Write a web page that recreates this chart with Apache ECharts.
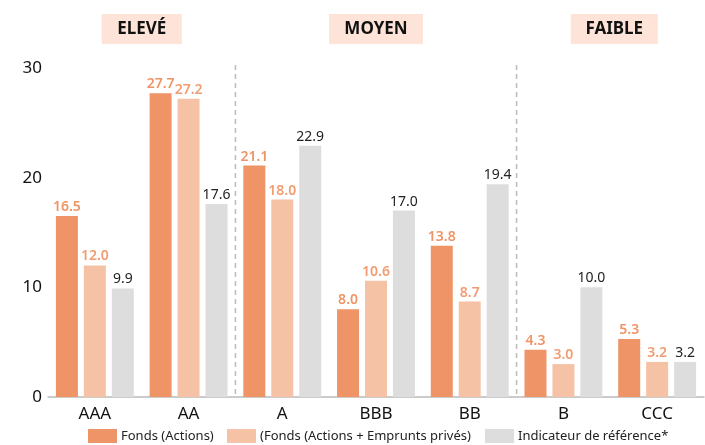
<!DOCTYPE html>
<html><head><meta charset="utf-8">
<script src="https://cdn.jsdelivr.net/npm/echarts@6/dist/echarts.min.js"></script>
<style>html,body{margin:0;padding:0;background:#fff}#c{width:705px;height:445px}</style>
</head><body><div id="c"></div>
<script>
const categories = ['AAA','AA','A','BBB','BB','B','CCC'];
const fondsActions = [16.5, 27.7, 21.1, 8.0, 13.8, 4.3, 5.3];
const fondsMixtes = [12.0, 27.2, 18.0, 10.6, 8.7, 3.0, 3.2];
const indicateur = [9.9, 17.6, 22.9, 17.0, 19.4, 10.0, 3.2];
const seriesNames = ['Fonds (Actions)', '(Fonds (Actions + Emprunts privés)', 'Indicateur de référence*'];
const groups = ['ELEVÉ', 'MOYEN', 'FAIBLE'];
const yTicks = [0, 10, 20, 30];

const FONT = "'Noto Sans',sans-serif";
const chart = echarts.init(document.getElementById('c'), null, {renderer:'canvas'});
const lbl = (color, weight) => ({show:true, position:'top', distance:2, color, fontSize:14, fontWeight:weight, fontFamily:FONT, formatter: p => p.value.toFixed(1)});
const legendAt = (name, left) => ({data:[name], bottom:2, left:left, padding:0, itemWidth:29, itemHeight:14, icon:'rect',
    textStyle:{fontSize:13, color:'#222', fontFamily:FONT, padding:[0,0,0,-1]}});
chart.setOption({
  animation:false,
  textStyle:{fontFamily:FONT},
  grid:{left:48, right:1, top:68, bottom:48, containLabel:false},
  legend:[legendAt(seriesNames[0], 88), legendAt(seriesNames[1], 227), legendAt(seriesNames[2], 485)],
  xAxis:{type:'category', data:categories, axisTick:{show:false},
    axisLine:{lineStyle:{color:'#bbb', width:1.5}},
    axisLabel:{fontSize:17, color:'#111', margin:9, fontFamily:FONT}},
  yAxis:{type:'value', min:yTicks[0], max:yTicks[yTicks.length-1], interval:10,
    splitLine:{show:false}, axisLine:{show:false}, axisTick:{show:false},
    axisLabel:{fontSize:17, color:'#111', margin:6, fontFamily:FONT}},
  series:[
    {name:seriesNames[0], type:'bar', data:fondsActions, barWidth:22, barGap:'27%', barCategoryGap:'17%',
      itemStyle:{color:'#ef9466'}, label:lbl('#ef9466','600')},
    {name:seriesNames[1], type:'bar', data:fondsMixtes, barWidth:22,
      itemStyle:{color:'#f5c2a6'}, label:lbl('#f29c72','600')},
    {name:seriesNames[2], type:'bar', data:indicateur, barWidth:22,
      itemStyle:{color:'#dddddd'}, label:lbl('#222','normal')}
  ]
});

const px = c => chart.convertToPixel({xAxisIndex:0}, c);
// dashed separators between rating groups, positioned via the axis scale
function sep(a, b){
  const x = (px(a) + px(b)) / 2;
  const yTop = chart.convertToPixel({yAxisIndex:0}, 30) - 3;
  const yBot = chart.convertToPixel({yAxisIndex:0}, 0);
  return {type:'line', shape:{x1:x, y1:yTop, x2:x, y2:yBot}, style:{stroke:'#bbb', lineWidth:1.5, lineDash:[5,4]}, silent:true};
}
const headerBox = (text, center, width) => ({type:'group', x:center - width/2, y:14, children:[
  {type:'rect', shape:{x:0, y:0, width:width, height:30}, style:{fill:'#fde3d8'}},
  {type:'text', x:width/2, y:15, style:{text:text, fill:'#111', font:"bold 17px "+FONT, align:'center', verticalAlign:'middle'}}
]});
chart.setOption({graphic:[
  sep('AA','A'), sep('BB','B'),
  headerBox(groups[0], (px('AAA')+px('AA'))/2, 80),
  headerBox(groups[1], px('BBB'), 94),
  headerBox(groups[2], (px('B')+px('CCC'))/2 + 4, 87)
]});
</script></body></html>
